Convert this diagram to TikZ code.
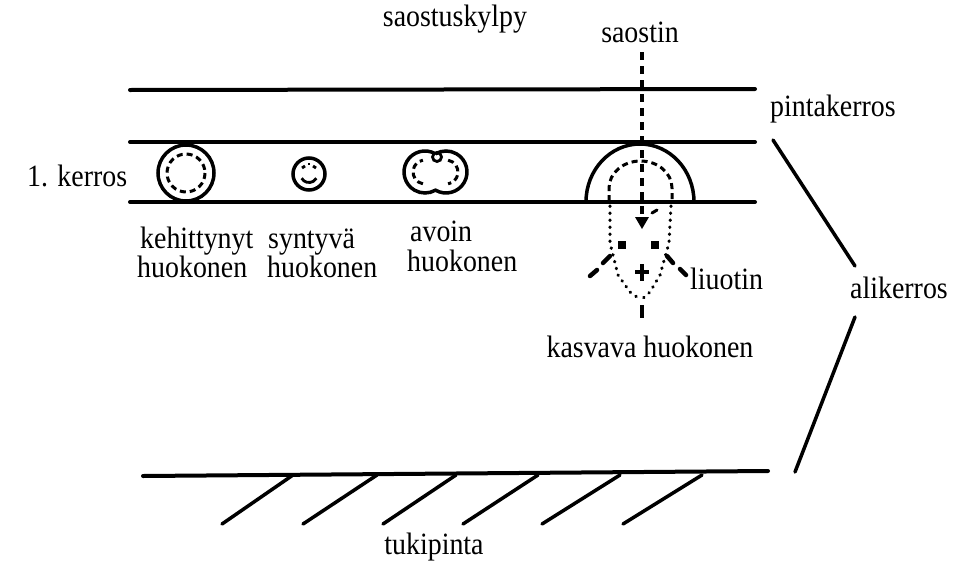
\documentclass[tikz,border=0pt]{standalone}
\usepackage{fontspec}
\setmainfont{Liberation Serif}[FakeStretch=0.9]
\begin{document}
\begin{tikzpicture}[x=1pt,y=-1pt,
  lbl/.style={inner sep=0pt,font=\fontsize{31}{34}\selectfont},
  layer/.style={line width=4pt,line cap=round},
  pore/.style={line width=3.5pt},
  poredash/.style={line width=3pt,dash pattern=on 6pt off 4pt},
  axis/.style={line width=3.5pt,dash pattern=on 8pt off 6pt},
  dotline/.style={line width=3.2pt,dash pattern=on 0.5pt off 6.5pt,line cap=round},
  blob/.style={line width=4.5pt,line cap=round}]
\useasboundingbox (0,0) rectangle (964,565);

% layer boundaries
\draw[layer] (130,90) -- (755,89);
\draw[layer] (130,142) -- (755,142);
\draw[layer] (130,202) -- (755,202);

% support surface with hatching
\draw[layer] (143,476) -- (768,471);
\foreach \t/\b in {293/222, 377/303, 456/383, 538/463, 620/542, 702/623}
  \draw[line width=3.5pt,line cap=round] (\t,475) -- (\b,524);

% developed pore
\draw[pore] (186,173) circle (28);
\draw[poredash] (186,173) circle (19);

% nascent pore
\draw[pore] (309,174) circle (16);
\draw[line width=2.8pt] (309,174) ++(150:8.5) arc[start angle=150,end angle=30,radius=8.5];
\draw[line width=2.8pt] (302,168) -- (305,166);
\draw[line width=2.8pt] (316,168) -- (313,166);
\draw[line width=2.8pt] (309,163) -- (309,165);

% open pore: two merged cells
\draw[pore] (435.5,153.8) arc[start angle=-60,end angle=-300,radius=21]
            arc[start angle=120,end angle=-120,radius=21];
\draw[poredash] (425,172) ++(100:12) arc[start angle=100,end angle=260,radius=12];
\draw[poredash] (446,172) ++(-80:12) arc[start angle=-80,end angle=80,radius=12];
\draw[line width=2.8pt] (437,157) circle (4.5);

% growing pore
\draw[pore] (586,202) arc[start angle=180,end angle=360,x radius=54,y radius=58];
\draw[poredash] (609,201) -- (609,188)
  arc[start angle=180,end angle=360,x radius=31.5,y radius=27] -- (672,201);

% precipitant path through the layers
\draw[axis] (642,52) -- (642,216);
\fill (635,217) -- (649,217) -- (642,229) -- cycle;
\draw[line width=3.2pt] (642,264) -- (642,281) (635,272) -- (649,272);
\draw[line width=3.5pt] (642,305) -- (642,318);

% solvent outflow
\draw[dotline] (610,206) -- (610,243) -- (618,275) -- (630,292) -- (641,300);
\draw[dotline] (671,206) -- (669,243) -- (660,275) -- (650,292) -- (641,300);
\fill (618,241) rectangle (626,249);
\fill (651,241) rectangle (659,249);
\draw[blob] (603,263) -- (610,256);
\draw[blob] (590,276) -- (597,270);
\draw[blob] (667,256) -- (673,263);
\draw[blob] (680,269) -- (686,275);
\draw[line width=3pt,line cap=round] (652,213) -- (657,210);

% labels
\node[lbl,anchor=base] (bath) at (455,26) {saostuskylpy};
\node[lbl,anchor=base] (prec) at (640,42) {saostin};
\node[lbl,anchor=base west] (top) at (770,116) {pintakerros};
\node[lbl,anchor=base west] (first) at (27,186) {1. kerros};
\node[lbl,anchor=base west] (devA) at (140,248) {kehittynyt};
\node[lbl,anchor=base west] (devB) at (137,277) {huokonen};
\node[lbl,anchor=base west] (nasA) at (268,248) {syntyvä};
\node[lbl,anchor=base west] (nasB) at (267,277) {huokonen};
\node[lbl,anchor=base west] (opnA) at (410,241) {avoin};
\node[lbl,anchor=base west] (opnB) at (407,271) {huokonen};
\node[lbl,anchor=base west] (solv) at (690,289) {liuotin};
\node[lbl,anchor=base] (grow) at (650,357) {kasvava huokonen};
\node[lbl,anchor=base west] (sub) at (850,298) {alikerros};
\node[lbl,anchor=base] (supp) at (434,554) {tukipinta};

% brace strokes towards the sublayer label
\draw[line width=3.5pt,line cap=round] (773,140) -- (855,266);
\draw[line width=3.5pt,line cap=round] (855,317) -- (795,472);
\end{tikzpicture}
\end{document}
